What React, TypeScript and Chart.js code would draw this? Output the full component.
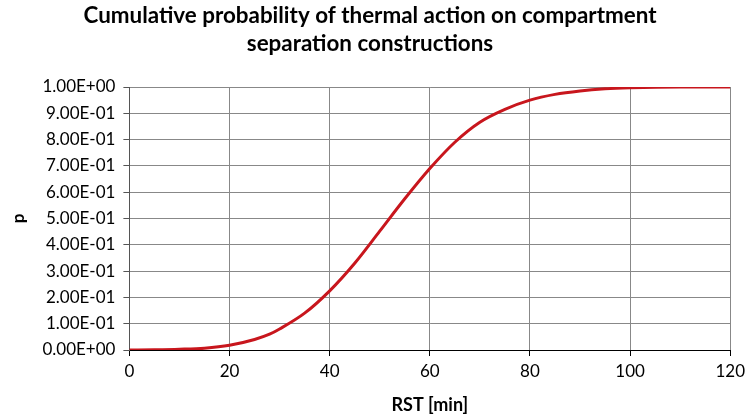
import React, { useEffect, useRef } from "react";
import { Chart, registerables } from "chart.js";

Chart.register(...registerables);

const rstMinutes = [0, 5, 10, 15, 20, 25, 28, 30, 35, 40, 45, 50, 55, 60, 65, 70, 75, 80, 85, 90, 95, 100, 110, 120];
const probability = [0, 0.001, 0.003, 0.007, 0.018, 0.04, 0.06, 0.08, 0.14, 0.225, 0.33, 0.452, 0.575, 0.69, 0.79, 0.866, 0.915, 0.95, 0.972, 0.985, 0.993, 0.997, 1.0, 1.0];
const titleLines = ["Cumulative probability of thermal action on compartment", "separation constructions"];
const xTitle = "RST [min]";
const yTitle = "p";

function sci(v: number): string {
  const s = v.toExponential(2).toUpperCase();
  const [m, e] = s.split("E");
  const sign = e[0] === "-" ? "-" : "+";
  const digits = e.replace(/[+-]/, "").padStart(2, "0");
  return `${m}E${sign}${digits}`;
}

export default function App() {
  const ref = useRef<HTMLCanvasElement | null>(null);
  useEffect(() => {
    document.body.style.margin = "0";
    const font = "Lato, 'Open Sans', sans-serif";
    const chart = new Chart(ref.current!, {
      type: "line",
      data: {
        datasets: [
          {
            data: rstMinutes.map((x, i) => ({ x, y: probability[i] })),
            borderColor: "#c8161d",
            borderWidth: 3,
            pointRadius: 0,
            cubicInterpolationMode: "monotone",
            fill: false,
          },
        ],
      },
      options: {
        animation: false,
        responsive: false,
        maintainAspectRatio: false,
        layout: { padding: { left: 4, right: 14, top: 0, bottom: -1 } },
        plugins: {
          legend: { display: false },
          tooltip: { enabled: false },
          title: {
            display: true,
            text: titleLines,
            color: "#000",
            font: { family: font, size: 22.4, weight: "bold", lineHeight: 1.25 },
            padding: { top: 2, bottom: 29 },
          },
        },
        scales: {
          x: {
            type: "linear",
            min: 0,
            max: 120,
            ticks: { stepSize: 20, color: "#000", font: { family: font, size: 17 }, padding: 5 },
            grid: { color: "#888", lineWidth: 1, tickLength: 6, tickColor: "#000" },
            border: { color: "#000", width: 1 },
            title: { display: true, text: xTitle, color: "#000", font: { family: font, size: 18, weight: "bold" }, padding: { top: 8, bottom: 0 } },
          },
          y: {
            min: 0,
            max: 1,
            ticks: { stepSize: 0.1, color: "#000", font: { family: font, size: 17 }, padding: 8, callback: (v: any) => sci(Number(v)) },
            grid: { color: "#888", lineWidth: 1, tickLength: 6, tickColor: "#555" },
            border: { color: "#555", width: 1 },
            title: { display: true, text: yTitle, color: "#000", font: { family: font, size: 17, weight: "bold" }, padding: { bottom: 6 } },
          },
        },
      },
    });
    return () => chart.destroy();
  }, []);
  return (
    <div style={{ width: 750, height: 415 }}>
      <canvas ref={ref} width={750} height={415} style={{ width: 750, height: 415, display: "block" }} />
    </div>
  );
}
